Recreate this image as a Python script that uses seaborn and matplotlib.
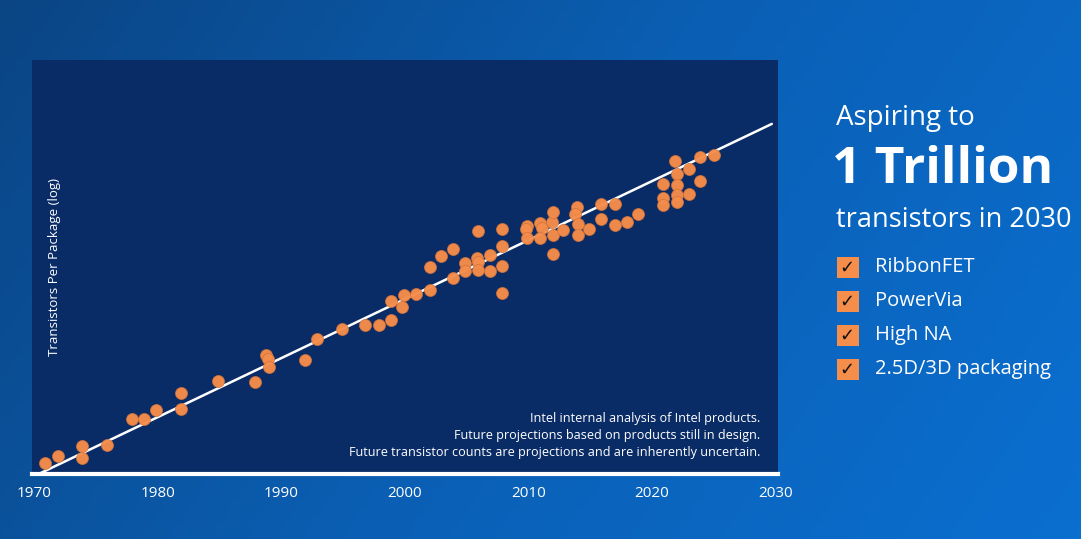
"""
Transistors per package over time, with the 1 trillion by 2030 trend.
"""

from __future__ import annotations

import matplotlib

matplotlib.use("Agg")
import matplotlib.pyplot as plt
import numpy as np
import pandas as pd
import seaborn as sns
from matplotlib.colors import LinearSegmentedColormap
from matplotlib.patches import Rectangle

# Product launch year and log10 transistors per package
YEARS = [
    1970.9, 1971.9, 1973.9, 1973.9, 1975.9, 1977.9, 1978.9, 1979.9, 1981.9, 1981.9,
    1984.9, 1987.9, 1988.8, 1988.9, 1989.0, 1991.9, 1992.9, 1994.9, 1996.8, 1997.9,
    1998.9, 1998.9, 1999.8, 1999.9, 2000.9, 2002.0, 2002.0, 2002.9, 2003.9, 2003.9,
    2004.9, 2004.9, 2005.9, 2005.8, 2005.9, 2005.9, 2006.9, 2006.9, 2007.9, 2007.9,
    2007.9, 2007.9, 2009.9, 2009.8, 2009.9, 2010.9, 2011.1, 2010.9, 2011.9, 2012.0,
    2012.0, 2012.0, 2012.8, 2013.9, 2013.8, 2014.0, 2014.0, 2014.9, 2015.9, 2015.9,
    2017.0, 2017.0, 2018.0, 2018.9, 2020.9, 2020.9, 2020.9, 2021.9, 2022.0, 2022.0,
    2022.0, 2022.0, 2023.0, 2023.0, 2023.9, 2023.9, 2025.0,
]
LOG_TRANSISTORS = [
    3.62, 3.79, 4.03, 3.73, 4.06, 4.70, 4.71, 4.93, 5.35, 4.95,
    5.65, 5.61, 6.28, 6.18, 5.99, 6.15, 6.69, 6.93, 7.03, 7.03,
    7.15, 7.61, 7.48, 7.77, 7.79, 7.90, 8.47, 8.74, 8.90, 8.20,
    8.57, 8.35, 9.35, 8.68, 8.59, 8.39, 8.75, 8.36, 9.39, 8.98,
    8.49, 7.82, 9.48, 9.39, 9.17, 9.54, 9.42, 9.17, 9.57, 9.82,
    9.25, 8.77, 9.38, 9.94, 9.77, 9.52, 9.24, 9.40, 10.01, 9.64,
    10.01, 9.50, 9.58, 9.77, 10.51, 10.17, 10.00, 11.09, 10.75, 10.49,
    10.24, 10.08, 10.89, 10.27, 11.18, 10.59, 11.24,
]

# Trend line end points
TREND_YEARS = [1970.5, 2029.7]
TREND_LOG = [3.36, 12.0]

DECADES = [1970, 1980, 1990, 2000, 2010, 2020, 2030]
FEATURES = ["RibbonFET", "PowerVia", "High NA", "2.5D/3D packaging"]
NOTES = [
    "Intel internal analysis of Intel products.",
    "Future projections based on products still in design.",
    "Future transistor counts are projections and are inherently uncertain.",
]

NAVY = "#0a2c66"
ORANGE = "#f58d4b"
FONT = ["Open Sans", "DejaVu Sans"]


def _background(fig):
    """Blue gradient backdrop behind everything."""
    bg = fig.add_axes([0, 0, 1, 1], zorder=-10)
    cmap = LinearSegmentedColormap.from_list("intel", ["#0b4584", "#0a5fb4", "#0b6fd0"])
    gx, gy = np.meshgrid(np.linspace(0, 1, 200), np.linspace(0, 1, 100))
    bg.imshow(0.75 * gx + 0.25 * gy, cmap=cmap, aspect="auto", extent=(0, 1, 0, 1), origin="upper")
    bg.set_axis_off()


def plot_trend():
    sns.set_style("dark")
    plt.rcParams["font.family"] = FONT

    df = pd.DataFrame({"year": YEARS, "log_count": LOG_TRANSISTORS})

    fig = plt.figure(figsize=(10.81, 5.39), dpi=100)
    _background(fig)

    ax = fig.add_axes([0.0293, 0.1206, 0.6904, 0.768])
    ax.set_facecolor(NAVY)

    sns.lineplot(x=TREND_YEARS, y=TREND_LOG, ax=ax, color="white", linewidth=1.8, zorder=2)
    sns.scatterplot(
        data=df, x="year", y="log_count", ax=ax,
        color=ORANGE, s=75, edgecolor="#d0723a", linewidth=0.5, alpha=0.97, zorder=3,
    )

    ax.set_xlim(1969.8, 2030.2)
    ax.set_ylim(3.34, 13.58)
    ax.set_xticks(DECADES)
    ax.set_xticklabels([str(d) for d in DECADES], color="white", fontsize=11)
    ax.set_yticks([])
    ax.tick_params(axis="x", length=0, pad=9)
    ax.grid(False)
    ax.set_xlabel("")
    ax.set_ylabel("Transistors Per Package (log)", color="white", fontsize=9.5)
    ax.yaxis.set_label_coords(0.039, 0.5)

    for side in ["top", "left", "right"]:
        ax.spines[side].set_visible(False)
    ax.spines["bottom"].set_color("white")
    ax.spines["bottom"].set_linewidth(3)

    for i, note in enumerate(NOTES):
        ax.text(0.976, 0.135 - i * 0.042, note, transform=ax.transAxes,
                ha="right", va="center", color="white", fontsize=9.1)

    # Right-hand headline
    fig.text(0.773, 0.768, "Aspiring to", color="white", fontsize=20, va="baseline")
    fig.text(0.770, 0.660, "1 Trillion", color="white", fontsize=37, weight="bold", va="baseline")
    fig.text(0.773, 0.579, "transistors in 2030", color="white", fontsize=19.5, va="baseline")

    for i, feat in enumerate(FEATURES):
        yc = 1 - (267 + i * 34) / 539
        fig.add_artist(Rectangle((837 / 1081, yc - 10.5 / 539), 22 / 1081, 21 / 539,
                                 transform=fig.transFigure, facecolor=ORANGE, edgecolor="none"))
        fig.text(847 / 1081, yc - 1 / 539, "\u2713", color="#111111", fontsize=13, weight="bold",
                 ha="center", va="center", family=["DejaVu Sans"])
        fig.text(875 / 1081, yc, feat, color="white", fontsize=14.5, va="center")

    fig.savefig("out.png", dpi=100)


if __name__ == "__main__":
    plot_trend()
